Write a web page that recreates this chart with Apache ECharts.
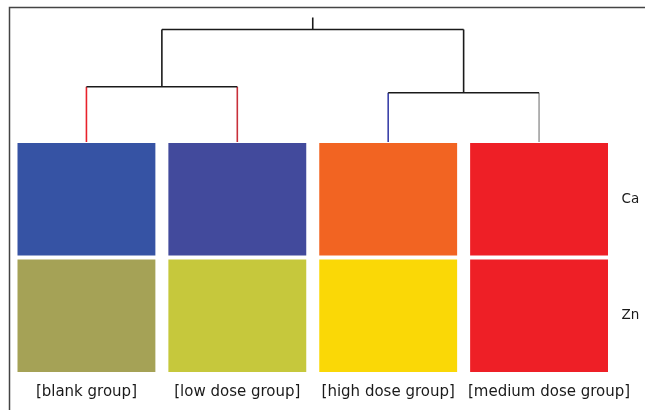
<!DOCTYPE html>
<html><head><meta charset="utf-8">
<script src="https://cdn.jsdelivr.net/npm/echarts@6/dist/echarts.min.js"></script>
<style>html,body{margin:0;padding:0;background:#fff}#c{width:645px;height:410px}</style>
</head><body><div id="c"></div>
<script>
// Data
var groups = ['[blank group]', '[low dose group]', '[high dose group]', '[medium dose group]'];
var elements = ['Zn', 'Ca'];
// relative level per cell (estimated from colour) : [groupIndex, elementIndex, level]
var caLevels = [1, 0, 5, 6];
var znLevels = [2, 3, 4, 6];
// dendrogram merge heights (arbitrary distance units)
var leftMerge = 0.55, rightMerge = 0.49, rootMerge = 1.12, rootTop = 1.24;

var cells = [];
for (var i = 0; i < groups.length; i++) {
  cells.push([i, 1, caLevels[i]]);
  cells.push([i, 0, znLevels[i]]);
}

var leftMid = (0 + 1) / 2, rightMid = (2 + 3) / 2, rootMid = (leftMid + rightMid) / 2;
var links = [
  {d: [[0, 0], [0, leftMerge]], c: '#e8222b'},
  {d: [[1, 0], [1, leftMerge]], c: '#c8303a'},
  {d: [[0, leftMerge], [1, leftMerge]], c: '#1a1a1a'},
  {d: [[2, 0], [2, rightMerge]], c: '#3a40a8'},
  {d: [[3, 0], [3, rightMerge]], c: '#a0a0a0'},
  {d: [[2, rightMerge], [3, rightMerge]], c: '#1a1a1a'},
  {d: [[leftMid, leftMerge], [leftMid, rootMerge]], c: '#1a1a1a'},
  {d: [[rightMid, rightMerge], [rightMid, rootMerge]], c: '#1a1a1a'},
  {d: [[leftMid, rootMerge], [rightMid, rootMerge]], c: '#1a1a1a'},
  {d: [[rootMid, rootMerge], [rootMid, rootTop]], c: '#1a1a1a'}
];

var chart = echarts.init(document.getElementById('c'));
var series = [{
  type: 'custom',
  xAxisIndex: 0, yAxisIndex: 0,
  data: cells,
  encode: {x: 0, y: 1},
  renderItem: function (params, api) {
    var p = api.coord([api.value(0), api.value(1)]);
    var s = api.size([1, 1]);
    var w = s[0] - 13, h = s[1] - 4;
    return {
      type: 'rect',
      shape: {x: p[0] - w / 2, y: p[1] - h / 2, width: w, height: h},
      style: {fill: api.visual('color')}
    };
  }
}];
links.forEach(function (l) {
  series.push({
    type: 'line', xAxisIndex: 1, yAxisIndex: 1, data: l.d,
    symbol: 'none', silent: true, animation: false,
    lineStyle: {color: l.c, width: 1.6}
  });
});

chart.setOption({
  animation: false,
  backgroundColor: '#fff',
  grid: [
    {left: 11, width: 603.5, top: 141, height: 233},
    {left: 11, width: 603.5, top: 17.5, height: 124.5}
  ],
  xAxis: [
    {type: 'category', gridIndex: 0, data: groups, position: 'bottom',
     axisLine: {show: false}, axisTick: {show: false}, splitLine: {show: false},
     axisLabel: {color: '#1a1a1a', fontSize: 15, fontFamily: 'DejaVu Sans', margin: 11, interval: 0,
       formatter: function (v, idx) { return idx === 3 ? '{m|' + v + '}' : v; },
       rich: {m: {fontSize: 15, fontFamily: 'DejaVu Sans', color: '#1a1a1a', padding: [0, 0, 0, 20]}}}},
    {type: 'value', gridIndex: 1, min: -0.5, max: 3.5, show: false}
  ],
  yAxis: [
    {type: 'category', gridIndex: 0, data: elements, position: 'right',
     axisLine: {show: false}, axisTick: {show: false}, splitLine: {show: false},
     axisLabel: {color: '#1a1a1a', fontSize: 13.5, fontFamily: 'DejaVu Sans', margin: 7}},
    {type: 'value', gridIndex: 1, min: 0, max: rootTop, show: false}
  ],
  visualMap: {
    show: false, seriesIndex: 0, dimension: 2, min: 0, max: 6,
    type: 'piecewise',
    pieces: [
      {value: 0, color: '#424a9c'},
      {value: 1, color: '#3653a4'},
      {value: 2, color: '#a5a256'},
      {value: 3, color: '#c6c83c'},
      {value: 4, color: '#fad806'},
      {value: 5, color: '#f26422'},
      {value: 6, color: '#ee1f26'}
    ]
  },
  graphic: [
    {type: 'polyline', silent: true,
     shape: {points: [[9.5, 410], [9.5, 7.5], [645, 7.5]]},
     style: {stroke: '#444', lineWidth: 1.5, fill: null}}
  ],
  series: series
});
</script></body></html>
